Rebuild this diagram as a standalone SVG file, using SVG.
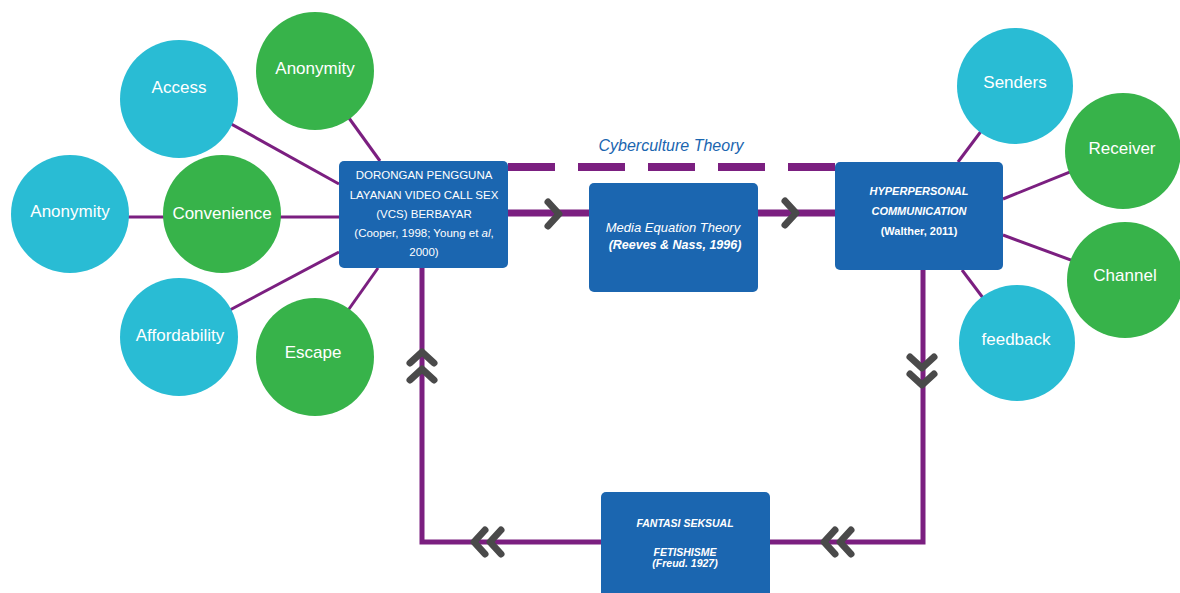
<svg xmlns="http://www.w3.org/2000/svg" width="1180" height="593" viewBox="0 0 1180 593">
<style>
.bg{fill:#ffffff}
.thin{stroke:#7b1f80;stroke-width:3;fill:none}
.main{stroke:#7b1f80;stroke-width:7;fill:none}
.loop{stroke:#7b1f80;stroke-width:5;fill:none}
.dash{stroke:#7b1f80;stroke-width:8;fill:none;stroke-dasharray:47 23}
.blue{fill:#29bcd4}
.green{fill:#37b34a}
.box{fill:#1b66b0}
.ct{font-family:"Liberation Sans",Arial,sans-serif;font-size:17px;fill:#ffffff;text-anchor:middle}
.bt{font-family:"Liberation Sans",Arial,sans-serif;font-size:11.5px;fill:#ffffff;text-anchor:middle}
.it{font-style:italic}
.b{font-weight:bold}
.chev{stroke:#4a4a4a;stroke-width:7;fill:none;stroke-linecap:round;stroke-linejoin:round}
</style>
<defs>
<path id="chev" class="chev" d="M-5,-12 L6,0 L-5,12"/>
</defs>
<rect class="bg" x="0" y="0" width="1180" height="593"/>

<g id="connectors">
<line class="thin" x1="179" y1="95" x2="339" y2="184"/>
<line class="thin" x1="315" y1="71" x2="380" y2="161"/>
<line class="thin" x1="70" y1="217" x2="339" y2="217"/>
<line class="thin" x1="179" y1="337" x2="339" y2="252"/>
<line class="thin" x1="315" y1="357" x2="378" y2="268"/>
<line class="thin" x1="1015" y1="86" x2="958" y2="162"/>
<line class="thin" x1="1122" y1="151" x2="1003" y2="199"/>
<line class="thin" x1="1125" y1="280" x2="1003" y2="235"/>
<line class="thin" x1="1017" y1="343" x2="962" y2="270"/>
<line class="dash" x1="508" y1="167" x2="835" y2="167"/>
<line class="main" x1="508" y1="213" x2="589" y2="213"/>
<line class="main" x1="758" y1="213" x2="835" y2="213"/>
<polyline class="loop" points="923,270 923,542 770,542"/>
<polyline class="loop" points="601,542 422,542 422,268"/>
<use href="#chev" transform="translate(553,214)"/>
<use href="#chev" transform="translate(790,213)"/>
<use href="#chev" transform="translate(922,362) rotate(90)"/>
<use href="#chev" transform="translate(922,379) rotate(90)"/>
<use href="#chev" transform="translate(422,358) rotate(-90)"/>
<use href="#chev" transform="translate(422,375) rotate(-90)"/>
<use href="#chev" transform="translate(830,542) rotate(180)"/>
<use href="#chev" transform="translate(846,542) rotate(180)"/>
<use href="#chev" transform="translate(480,542) rotate(180)"/>
<use href="#chev" transform="translate(496,542) rotate(180)"/>
</g>

<text class="bt it" x="671" y="151" style="font-size:16px;fill:#1b66b0">Cyberculture Theory</text>

<g id="access"><circle class="blue" cx="179" cy="99" r="59"/><text class="ct" x="179" y="93">Access</text></g>
<g id="anonymity-green"><circle class="green" cx="315" cy="71" r="59"/><text class="ct" x="315" y="74">Anonymity</text></g>
<g id="anonymity-blue"><circle class="blue" cx="70" cy="214" r="59"/><text class="ct" x="70" y="217">Anonymity</text></g>
<g id="convenience"><circle class="green" cx="222" cy="214" r="59"/><text class="ct" x="222" y="219">Convenience</text></g>
<g id="affordability"><circle class="blue" cx="179" cy="337" r="59"/><text class="ct" x="180" y="341">Affordability</text></g>
<g id="escape"><circle class="green" cx="315" cy="357" r="59"/><text class="ct" x="313" y="358">Escape</text></g>

<g id="senders"><circle class="blue" cx="1015" cy="86" r="58"/><text class="ct" x="1015" y="88">Senders</text></g>
<g id="receiver"><circle class="green" cx="1123" cy="151" r="58"/><text class="ct" x="1122" y="154">Receiver</text></g>
<g id="channel"><circle class="green" cx="1125" cy="280" r="58"/><text class="ct" x="1125" y="281">Channel</text></g>
<g id="feedback"><circle class="blue" cx="1017" cy="343" r="58"/><text class="ct" x="1016" y="345">feedback</text></g>

<g id="dorongan">
<rect class="box" x="339" y="161" width="169" height="107" rx="5"/>
<text class="bt" x="424" y="179">DORONGAN PENGGUNA</text>
<text class="bt" x="424" y="199">LAYANAN VIDEO CALL SEX</text>
<text class="bt" x="424" y="218">(VCS) BERBAYAR</text>
<text class="bt" x="424" y="237">(Cooper, 1998; Young et <tspan class="it">al</tspan>,</text>
<text class="bt" x="424" y="256">2000)</text>
</g>

<g id="media-equation">
<rect class="box" x="589" y="183" width="169" height="109" rx="5"/>
<text class="bt it" x="673" y="232" style="font-size:13px">Media Equation Theory</text>
<text class="bt it b" x="675" y="249" style="font-size:12.5px">(Reeves &amp; Nass, 1996)</text>
</g>

<g id="hyperpersonal">
<rect class="box" x="835" y="162" width="168" height="108" rx="5"/>
<text class="bt it b" x="919" y="195" style="font-size:11px">HYPERPERSONAL</text>
<text class="bt it b" x="919" y="215" style="font-size:11px">COMMUNICATION</text>
<text class="bt b" x="919" y="235" style="font-size:11px">(Walther, 2011)</text>
</g>

<g id="fantasi">
<rect class="box" x="601" y="492" width="169" height="112" rx="5"/>
<text class="bt it b" x="685" y="527" style="font-size:10.5px">FANTASI SEKSUAL</text>
<text class="bt it b" x="685" y="556" style="font-size:10.5px">FETISHISME</text>
<text class="bt it b" x="685" y="567" style="font-size:10.5px">(Freud. 1927)</text>
</g>
</svg>
